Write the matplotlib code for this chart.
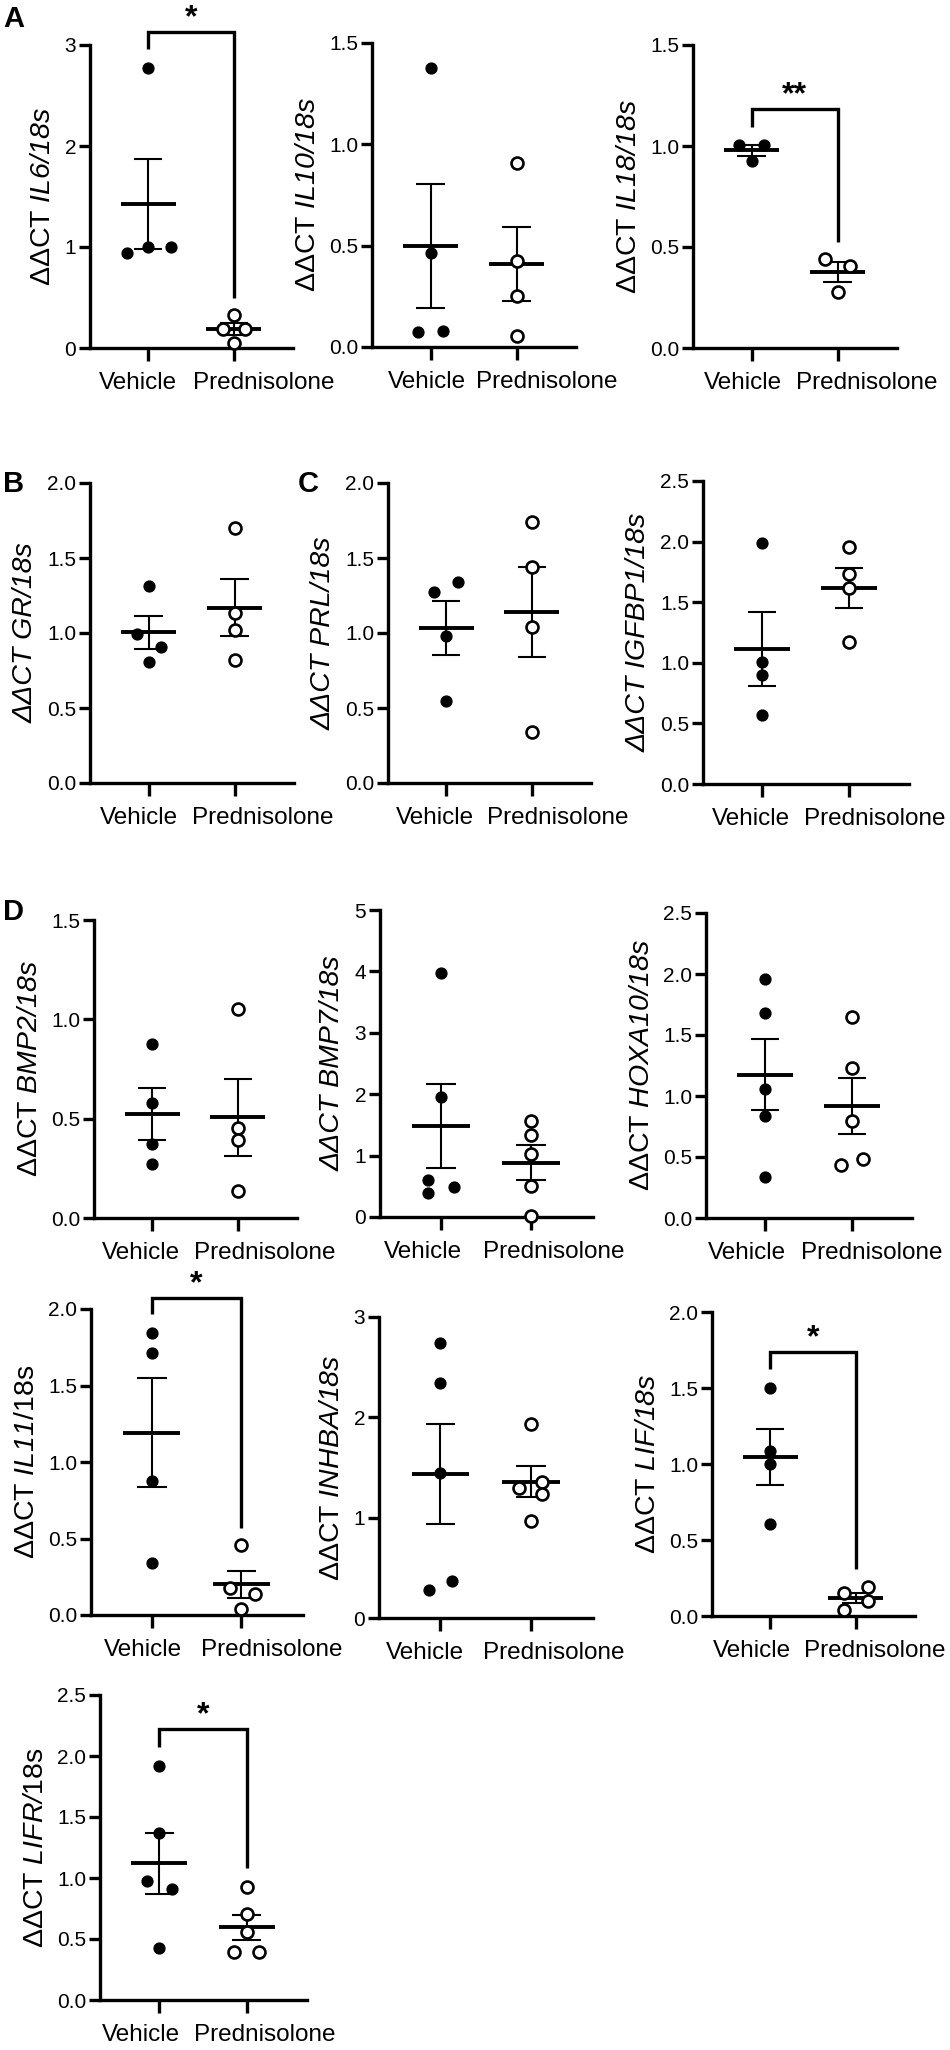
import matplotlib
matplotlib.use('Agg')
import matplotlib.pyplot as plt
import numpy as np

plt.rcParams['font.family'] = ['Liberation Sans', 'DejaVu Sans']
plt.rcParams['mathtext.fontset'] = 'custom'
plt.rcParams['mathtext.rm'] = 'Liberation Sans:italic'
plt.rcParams['mathtext.it'] = 'Liberation Sans:italic'
plt.rcParams['mathtext.bf'] = 'Liberation Sans:bold'

# ---------------- data ----------------
groups = ['Vehicle', 'Prednisolone']

il6_vehicle = [2.77, 0.94, 1.00, 1.00]
il6_prednisolone = [0.33, 0.19, 0.19, 0.05]
il10_vehicle = [1.376, 0.465, 0.074, 0.080]
il10_prednisolone = [0.91, 0.426, 0.253, 0.054]
il18_vehicle = [1.005, 1.005, 0.925]
il18_prednisolone = [0.443, 0.408, 0.279]
gr_vehicle = [1.313, 0.993, 0.907, 0.807]
gr_prednisolone = [1.70, 1.133, 1.02, 0.82]
prl_vehicle = [1.273, 1.34, 0.98, 0.547]
prl_prednisolone = [1.74, 1.44, 1.04, 0.34]
igfbp1_vehicle = [1.985, 1.005, 0.898, 0.568]
igfbp1_prednisolone = [1.952, 1.73, 1.615, 1.17]
bmp2_vehicle = [0.874, 0.578, 0.372, 0.271]
bmp2_prednisolone = [1.05, 0.452, 0.392, 0.136]
bmp7_vehicle = [3.98, 1.95, 0.60, 0.49, 0.39]
bmp7_prednisolone = [1.56, 1.33, 1.02, 0.50, 0.02]
hoxa10_vehicle = [1.96, 1.68, 1.057, 0.836, 0.336]
hoxa10_prednisolone = [1.65, 1.23, 0.795, 0.48, 0.434]
il11_vehicle = [1.84, 1.71, 0.877, 0.338]
il11_prednisolone = [0.455, 0.175, 0.136, 0.04]
inhba_vehicle = [2.74, 2.34, 1.445, 0.37, 0.28]
inhba_prednisolone = [1.93, 1.30, 1.36, 1.24, 0.97]
lif_vehicle = [1.50, 1.085, 1.00, 0.605]
lif_prednisolone = [0.19, 0.15, 0.10, 0.04]
lifr_vehicle = [1.918, 1.37, 0.975, 0.91, 0.426]
lifr_prednisolone = [0.926, 0.705, 0.56, 0.393, 0.393]

# y tick values
il6_yticks = [0, 1, 2, 3]
il10_yticks = [0.0, 0.5, 1.0, 1.5]
il18_yticks = [0.0, 0.5, 1.0, 1.5]
gr_yticks = [0.0, 0.5, 1.0, 1.5, 2.0]
prl_yticks = [0.0, 0.5, 1.0, 1.5, 2.0]
igfbp1_yticks = [0.0, 0.5, 1.0, 1.5, 2.0, 2.5]
bmp2_yticks = [0.0, 0.5, 1.0, 1.5]
bmp7_yticks = [0, 1, 2, 3, 4, 5]
hoxa10_yticks = [0.0, 0.5, 1.0, 1.5, 2.0, 2.5]
il11_yticks = [0.0, 0.5, 1.0, 1.5, 2.0]
inhba_yticks = [0, 1, 2, 3]
lif_yticks = [0.0, 0.5, 1.0, 1.5, 2.0]
lifr_yticks = [0.0, 0.5, 1.0, 1.5, 2.0, 2.5]

# significance brackets: (stars, left-leg end, top, right-leg end)
il6_sig = ('*', 2.96, 3.13, 0.50)
il18_sig = ('**', 1.095, 1.184, 0.527)
il11_sig = ('*', 1.97, 2.07, 0.57)
lif_sig = ('*', 1.625, 1.74, 0.31)
lifr_sig = ('*', 2.07, 2.22, 1.08)

# ---------------- layout ----------------
W, H = 950, 2050
fig = plt.figure(figsize=(W / 100, H / 100), dpi=100)


def add_ax(box):
    L, T, R, B = box
    return fig.add_axes([L / W, 1 - B / H, (R - L) / W, (B - T) / H])


# dv/dp: horizontal scatter offsets of the points; lx: group-label shifts in px
panels = [
    dict(v=il6_vehicle, p=il6_prednisolone, yt=il6_yticks, fmt='%d',
         lab='ΔΔCT $\\mathrm{IL6/18s}$', it=False, box=(90, 45, 293, 348),
         dv=[0, -0.25, 0, 0.26], dp=[0, -0.125, 0.125, 0], sig=il6_sig, lx=(-10, 30)),
    dict(v=il10_vehicle, p=il10_prednisolone, yt=il10_yticks, fmt='%.1f',
         lab='ΔΔCT $\\mathrm{IL10/18s}$', it=False, box=(372, 43, 576, 347),
         dv=[0, 0, -0.14, 0.14], dp=[0, 0, 0, 0], sig=None, lx=(-4, 30)),
    dict(v=il18_vehicle, p=il18_prednisolone, yt=il18_yticks, fmt='%.1f',
         lab='ΔΔCT $\\mathrm{IL18/18s}$', it=False, box=(693, 45, 897, 348),
         dv=[-0.15, 0.14, 0], dp=[-0.15, 0.14, 0], sig=il18_sig, lx=(-9, 29)),
    dict(v=gr_vehicle, p=gr_prednisolone, yt=gr_yticks, fmt='%.1f',
         lab='ΔΔCT GR/18s', it=True, box=(90, 483, 294, 783),
         dv=[0, -0.13, 0.14, 0], dp=[0, 0, 0, 0], sig=None, lx=(-10, 28)),
    dict(v=prl_vehicle, p=prl_prednisolone, yt=prl_yticks, fmt='%.1f',
         lab='ΔΔCT PRL/18s', it=True, box=(388, 483, 591, 783),
         dv=[-0.14, 0.14, 0, 0], dp=[0, 0, 0, 0], sig=None, lx=(-11, 26)),
    dict(v=igfbp1_vehicle, p=igfbp1_prednisolone, yt=igfbp1_yticks, fmt='%.1f',
         lab='ΔΔCT IGFBP1/18s', it=True, box=(703, 481, 909, 784),
         dv=[0, 0, 0, 0], dp=[0, 0, 0, 0], sig=None, lx=(-11, 26)),
    dict(v=bmp2_vehicle, p=bmp2_prednisolone, yt=bmp2_yticks, fmt='%.1f',
         lab='ΔΔCT $\\mathrm{BMP2/18s}$', it=False, box=(94, 920, 297, 1218),
         dv=[0, 0, 0, 0], dp=[0, 0, 0, 0], sig=None, lx=(-11, 27)),
    dict(v=bmp7_vehicle, p=bmp7_prednisolone, yt=bmp7_yticks, fmt='%d',
         lab='ΔΔCT BMP7/18s', it=True, box=(380, 910, 593, 1217),
         dv=[0, 0, -0.15, 0.14, -0.15], dp=[0, 0, 0, 0, 0], sig=None, lx=(-18, 23)),
    dict(v=hoxa10_vehicle, p=hoxa10_prednisolone, yt=hoxa10_yticks, fmt='%.1f',
         lab='ΔΔCT $\\mathrm{HOXA10/18s}$', it=False, box=(706, 913, 912, 1218),
         dv=[0, 0, 0, 0, 0], dp=[0, 0, 0, 0.13, -0.13], sig=None, lx=(-18, 20)),
    dict(v=il11_vehicle, p=il11_prednisolone, yt=il11_yticks, fmt='%.1f',
         lab='ΔΔCT $\\mathrm{IL11}$/18s', it=False, box=(91, 1309, 303, 1615),
         dv=[0, 0, 0, 0], dp=[0, -0.13, 0.15, 0], sig=il11_sig, lx=(-9, 30)),
    dict(v=inhba_vehicle, p=inhba_prednisolone, yt=inhba_yticks, fmt='%d',
         lab='ΔΔCT $\\mathrm{INHBA/18s}$', it=False, box=(379, 1317, 593, 1618),
         dv=[0, 0, 0, 0.13, -0.13], dp=[0, -0.13, 0.13, 0.13, 0], sig=None, lx=(-15, 23)),
    dict(v=lif_vehicle, p=lif_prednisolone, yt=lif_yticks, fmt='%.1f',
         lab='ΔΔCT $\\mathrm{LIF/18s}$', it=False, box=(712, 1312, 915, 1616),
         dv=[0, 0, 0, 0], dp=[0.14, -0.14, 0.14, -0.14], sig=lif_sig, lx=(-18, 19)),
    dict(v=lifr_vehicle, p=lifr_prednisolone, yt=lifr_yticks, fmt='%.1f',
         lab='ΔΔCT $\\mathrm{LIFR/}$18s', it=False, box=(100, 1695, 307, 2000),
         dv=[0, 0, -0.14, 0.14, 0], dp=[0, 0, 0, -0.15, 0.14], sig=lifr_sig, lx=(-18, 18)),
]

AX_LW = 2.4
PX2PT = 72 / 100

for pn in panels:
    ax = add_ax(pn['box'])
    for i, (vals, dx) in enumerate(((pn['v'], pn['dv']), (pn['p'], pn['dp']))):
        vals = np.asarray(vals, float)
        xs = i + np.asarray(dx, float)
        if i == 0:
            ax.plot(xs, vals, 'o', ms=7.8, color='k', ls='none', zorder=4, clip_on=False)
        else:
            ax.plot(xs, vals, 'o', ms=8.6, mfc='white', mec='k', mew=1.9, ls='none',
                    zorder=4, clip_on=False)
        m = vals.mean()
        s = vals.std(ddof=1) / np.sqrt(len(vals))
        ax.hlines(m, i - 0.32, i + 0.32, lw=2.8, color='k', zorder=3)
        ax.vlines(i, m - s, m + s, lw=1.5, color='k', zorder=3)
        ax.hlines([m - s, m + s], i - 0.165, i + 0.165, lw=1.5, color='k', zorder=3)

    ax.set_xlim(-0.68, 1.69)
    ax.set_ylim(0, pn['yt'][-1])
    for sp in ('top', 'right'):
        ax.spines[sp].set_visible(False)
    for sp in ('left', 'bottom'):
        ax.spines[sp].set_linewidth(AX_LW)
    ax.set_xticks([0, 1])
    ax.tick_params(axis='x', labelbottom=False, length=9, width=AX_LW, direction='out')
    ax.tick_params(axis='y', length=8, width=AX_LW, direction='out', labelsize=15, pad=2)
    ax.set_yticks(pn['yt'])
    ax.set_yticklabels([pn['fmt'] % t for t in pn['yt']])
    for i, g in enumerate(groups):
        ax.annotate(g, xy=(i, 0), xycoords=('data', 'axes fraction'),
                    xytext=(pn['lx'][i] * PX2PT, -17), textcoords='offset points',
                    ha='center', va='top', fontsize=17.5, annotation_clip=False)
    ax.set_ylabel(pn['lab'], fontsize=20.5, labelpad=6,
                  fontstyle='italic' if pn['it'] else 'normal')

    if pn['sig'] is not None:
        stars, lb, top, rb = pn['sig']
        ax.plot([0, 0, 1, 1], [lb, top, top, rb], color='k', lw=AX_LW,
                clip_on=False, solid_joinstyle='miter', solid_capstyle='butt', zorder=5)
        ax.annotate(stars, xy=(0.5, top), xycoords='data', xytext=(0, 4),
                    textcoords='offset points', ha='center', va='baseline',
                    fontsize=23, fontweight='bold', annotation_clip=False)

# panel letters
for letter, (x, y) in {'A': (3, 27), 'B': (3, 492), 'C': (298, 492), 'D': (3, 920)}.items():
    fig.text(x / W, 1 - y / H, letter, fontsize=21, fontweight='bold', va='baseline', ha='left')

fig.savefig('out.png', dpi=100)
